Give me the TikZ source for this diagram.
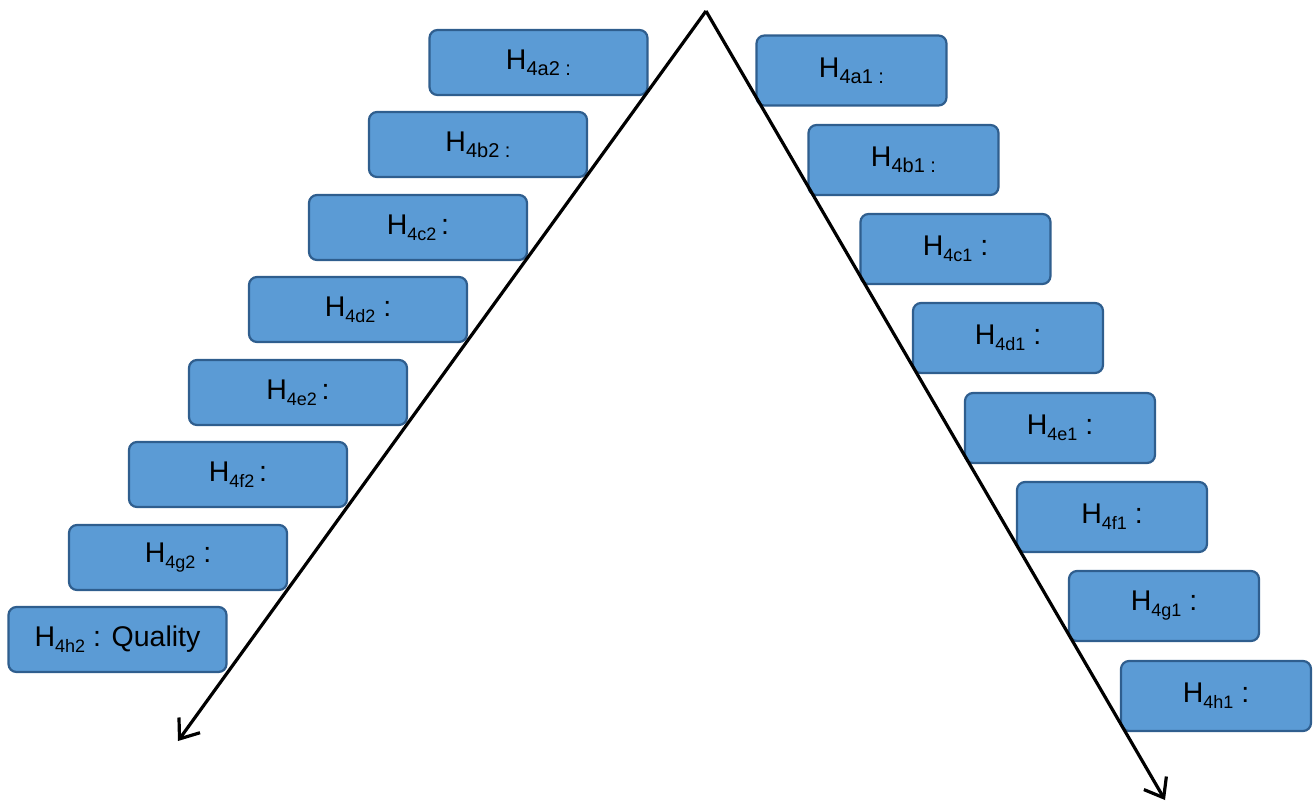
\documentclass[tikz,border=0pt]{standalone}
\usepackage{fontspec}
\setmainfont{Liberation Sans}
\usetikzlibrary{arrows.meta}
\definecolor{boxfill}{HTML}{5B9BD5}
\definecolor{boxline}{HTML}{2F5E8E}
\newcommand\Hsub[2]{H\raisebox{-6pt}{\fontsize{18}{18}\selectfont #1}#2}
\newcommand\Hsubb[1]{H\raisebox{-6pt}{\fontsize{20}{20}\selectfont #1\ :}}
\tikzset{
  hbox/.style={draw=boxline, fill=boxfill, line width=2.2pt, rounded corners=8pt,
    inner sep=0pt, font=\fontsize{28.5}{28.5}\selectfont, text=black},
  lbox/.style={hbox, minimum width=218pt, minimum height=65pt},
  rbox/.style={hbox, minimum width=190pt, minimum height=70pt},
  arr/.style={line width=3.2pt, -{Straight Barb[length=17pt, width=26pt, line width=3.2pt]}}
}
\begin{document}
\begin{tikzpicture}[x=1pt, y=-1pt]
\useasboundingbox (0,0) rectangle (1314,804);
% left boxes
\node[lbox] (a2) at (538.5,62.5) {\Hsubb{4a2}};
\node[lbox] (b2) at (478,144.5) {\Hsubb{4b2}};
\node[lbox] (c2) at (418,227.5) {\Hsub{4c2}{\,:}};
\node[lbox] (d2) at (358,309.5) {\Hsub{4d2}{\ :}};
\node[lbox] (e2) at (298,392.5) {\Hsub{4e2}{\,:}};
\node[lbox] (f2) at (238,474.5) {\Hsub{4f2}{\,:}};
\node[lbox] (g2) at (178,557.5) {\Hsub{4g2}{\ :}};
\node[lbox] (h2) at (117.5,639.5) {\Hsub{4h2}{\ : Quality}};
% right boxes
\node[rbox] (a1) at (851.5,70.5) {\raisebox{3pt}{\Hsubb{4a1}}};
\node[rbox] (b1) at (903.5,160) {\raisebox{3pt}{\Hsubb{4b1}}};
\node[rbox] (c1) at (955.5,249) {\raisebox{3pt}{\Hsub{4c1}{\ :}}};
\node[rbox] (d1) at (1008,338) {\raisebox{3pt}{\Hsub{4d1}{\ :}}};
\node[rbox] (e1) at (1060,428) {\raisebox{3pt}{\Hsub{4e1}{\ :}}};
\node[rbox] (f1) at (1112,517) {\raisebox{3pt}{\Hsub{4f1}{\ :}}};
\node[rbox] (g1) at (1164,606) {\raisebox{3pt}{\Hsub{4g1}{\ :}}};
\node[rbox] (h1) at (1216,696) {\raisebox{3pt}{\Hsub{4h1}{\ :}}};
% arrows
\coordinate (apex) at (706,11);
\coordinate (lend) at (178,741);
\coordinate (rend) at (1165,800);
\draw[arr] (apex) -- (lend);
\draw[arr] (apex) -- (rend);
\end{tikzpicture}
\end{document}
